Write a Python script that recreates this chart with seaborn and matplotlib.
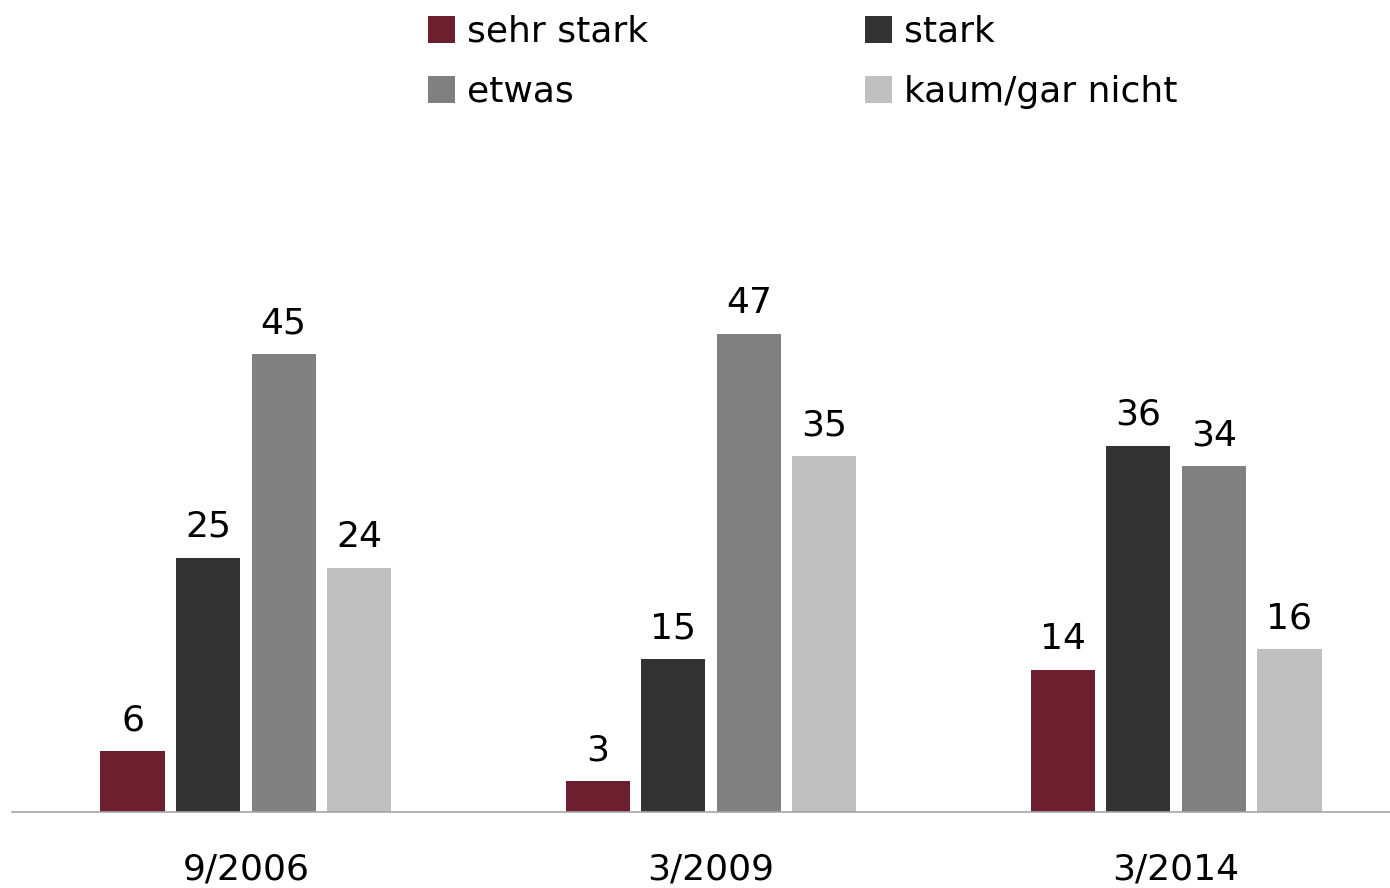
import matplotlib
matplotlib.use("Agg")
import matplotlib.pyplot as plt
import seaborn as sns
import pandas as pd

sns.set_theme(style="white")
plt.rcParams['font.family'] = ['DejaVu Sans']

periods = ["9/2006", "3/2009", "3/2014"]
categories = ["sehr stark", "stark", "etwas", "kaum/gar nicht"]
sehr_stark = [6, 3, 14]
stark = [25, 15, 36]
etwas = [45, 47, 34]
kaum = [24, 35, 16]
colors = ["#6B1F2F", "#333333", "#808080", "#C0C0C0"]

rows = []
for cat, vals in zip(categories, [sehr_stark, stark, etwas, kaum]):
    for p, v in zip(periods, vals):
        rows.append({"period": p, "cat": cat, "value": v})
df = pd.DataFrame(rows)

W, H = 1390, 888
fig = plt.figure(figsize=(W / 100, H / 100), dpi=100)
left, right, bottom, top = 12, 1390, 812, 140
ax = fig.add_axes([left / W, 1 - bottom / H, (right - left) / W, (bottom - top) / H])

sns.barplot(data=df, x="period", y="value", hue="cat", hue_order=categories,
            palette=colors, width=0.65, gap=0.15, ax=ax, legend=False,
            saturation=1, linewidth=0)

for c in ax.containers:
    ax.bar_label(c, fontsize=26, padding=10, color="black")

ax.set_xlim(-0.503, 2.46)
ax.set_ylim(0, (bottom - top) / 10.17)
ax.set_xlabel("")
ax.set_ylabel("")
ax.set_yticks([])
ax.tick_params(axis="x", length=0, pad=29, labelsize=26, labelcolor="black")
for s in ["top", "left", "right"]:
    ax.spines[s].set_visible(False)
ax.spines["bottom"].set_color("#A6A6A6")
ax.spines["bottom"].set_linewidth(1.2)

from matplotlib.patches import Patch
handles = [Patch(facecolor=c, edgecolor="none") for c in colors]
order = [0, 2, 1, 3]
fig.legend([handles[i] for i in order], [categories[i] for i in order],
           loc="upper left", bbox_to_anchor=(428 / W, 1 - 15 / H), ncol=2,
           frameon=False, fontsize=26, handlelength=0.75, handleheight=0.75,
           handletextpad=0.33, columnspacing=6.0, labelspacing=0.72,
           borderaxespad=0, borderpad=0, labelcolor="black")

fig.savefig("out.png", dpi=100)
